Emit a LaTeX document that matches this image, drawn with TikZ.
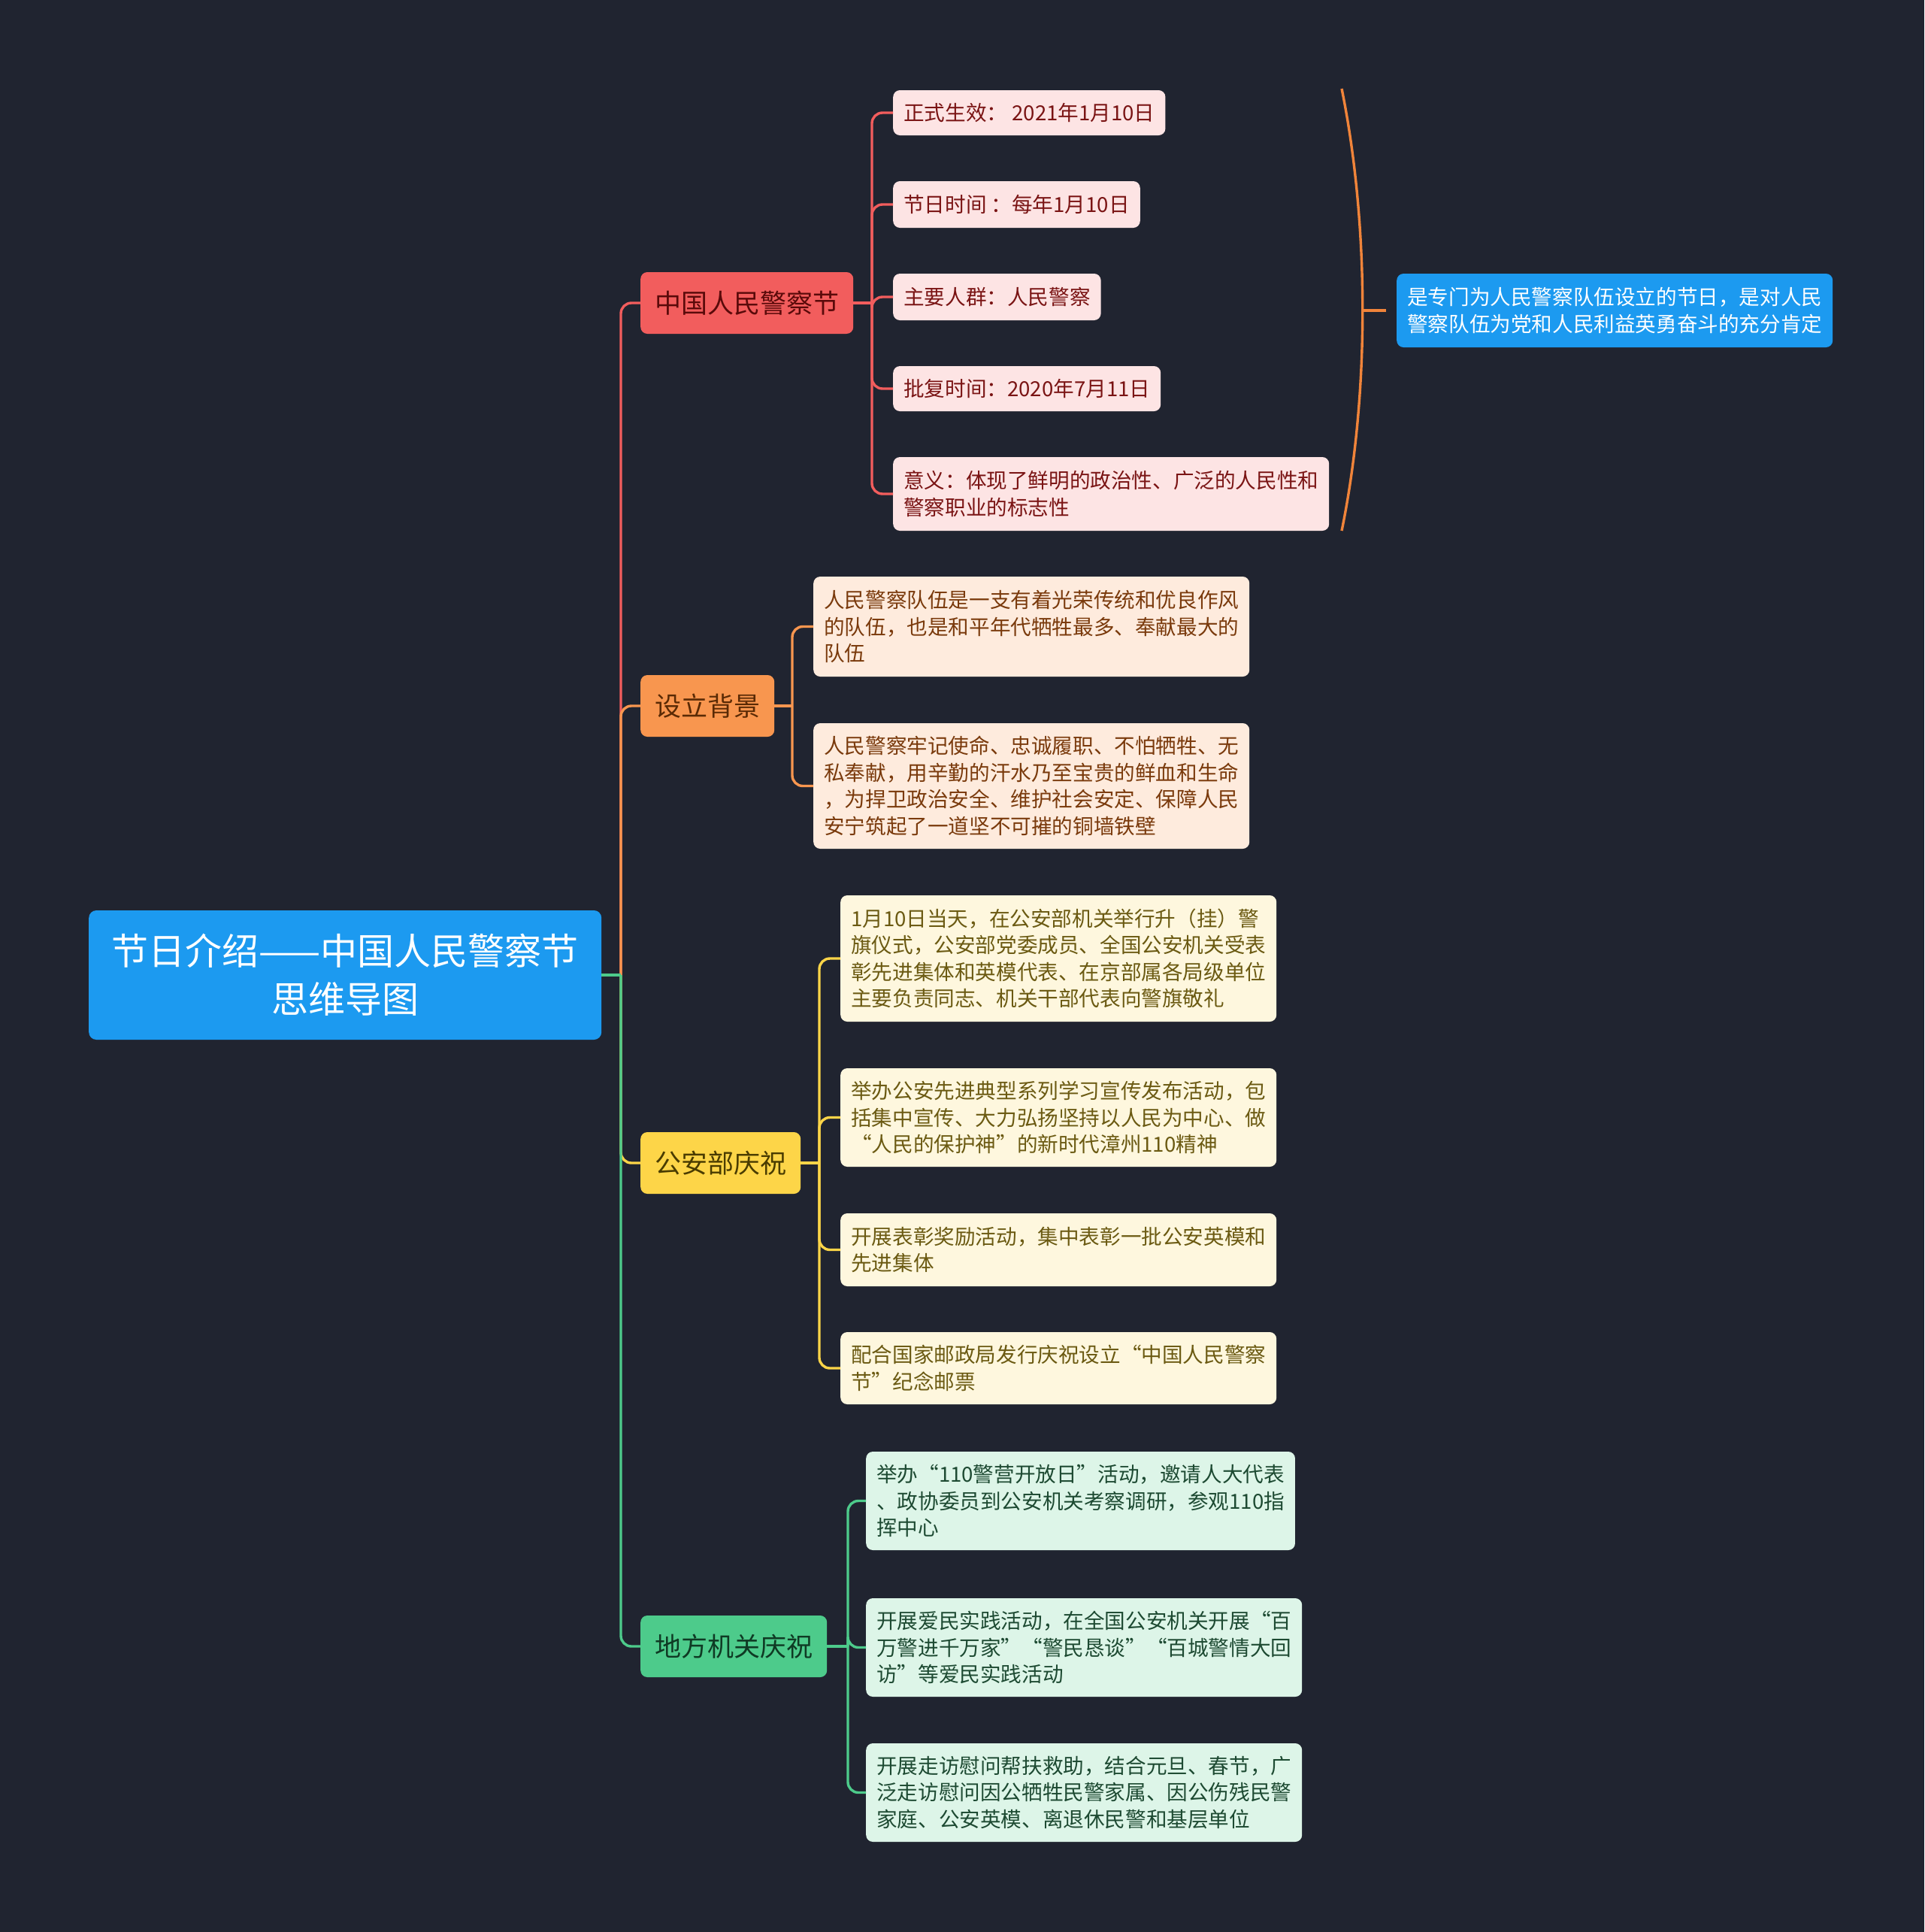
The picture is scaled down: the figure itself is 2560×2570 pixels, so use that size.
\documentclass[tikz,border=0pt]{standalone}
\usepackage{fontspec}
\setmainfont{Noto Sans CJK SC}
\definecolor{bg}{HTML}{202430}
\definecolor{cR}{HTML}{F25D5D}
\definecolor{cO}{HTML}{F8964F}
\definecolor{cY}{HTML}{FDD548}
\definecolor{cG}{HTML}{4DCB8B}
\definecolor{cB}{HTML}{1C9AF0}
\definecolor{fR}{HTML}{FDE4E4}
\definecolor{fO}{HTML}{FEEBDD}
\definecolor{fY}{HTML}{FEF7DE}
\definecolor{fG}{HTML}{DDF5E8}
\definecolor{tR}{HTML}{7A1414}
\definecolor{tO}{HTML}{7A3A0C}
\definecolor{tY}{HTML}{6B5A12}
\definecolor{tG}{HTML}{1D4A32}
\definecolor{tR1}{HTML}{5A0A0A}
\definecolor{tO1}{HTML}{5A2A05}
\definecolor{tY1}{HTML}{4A3C00}
\definecolor{tG1}{HTML}{0F3A24}
\definecolor{cBr}{HTML}{F0843A}
\begin{document}
\begin{tikzpicture}[x=1pt,y=-1pt,
  leafbase/.style={rounded corners=9pt, inner xsep=14pt, inner ysep=0pt, align=left, anchor=west,
    font=\fontsize{27.6}{35.5}\selectfont},
  leafR/.style={leafbase, fill=fR, text=tR},
  leafO/.style={leafbase, fill=fO, text=tO},
  leafY/.style={leafbase, fill=fY, text=tY},
  leafG/.style={leafbase, fill=fG, text=tG},
  topic/.style={rounded corners=9pt, inner xsep=19pt, inner ysep=0pt, minimum height=82pt, anchor=west,
    font=\fontsize{35}{42}\selectfont},
  lineR/.style={draw=cR, line width=3.4pt},
  lineO/.style={draw=cO, line width=3.4pt},
  lineY/.style={draw=cY, line width=3.4pt},
  lineG/.style={draw=cG, line width=3.4pt},
  rc/.style={rounded corners=14pt}
]
\fill[bg] (0,0) rectangle (2560,2570);
\useasboundingbox (0,0) rectangle (2560,2570);

% root
\node[rounded corners=10pt, fill=cB, text=white, align=center, anchor=west,
  minimum width=682pt, minimum height=172pt, inner sep=0pt,
  font=\fontsize{49}{64}\selectfont] (root) at (118,1297) {节日介绍——中国人民警察节\\思维导图};

% level 1
\node[topic, fill=cR, text=tR1] (n1) at (852,403) {中国人民警察节};
\node[topic, fill=cO, text=tO1] (n2) at (852,939) {设立背景};
\node[topic, fill=cY, text=tY1] (n3) at (852,1547) {公安部庆祝};
\node[topic, fill=cG, text=tG1] (n4) at (852,2190) {地方机关庆祝};

% leaves of n1
\node[leafR, minimum height=60pt] (a1) at (1188,150) {正式生效： 2021年1月10日};
\node[leafR, minimum height=62pt] (a2) at (1188,272) {节日时间 ：每年1月10日};
\node[leafR, minimum height=62pt] (a3) at (1188,395) {主要人群：人民警察};
\node[leafR, minimum height=60pt] (a4) at (1188,517) {批复时间：2020年7月11日};
\node[leafR, minimum height=98pt] (a5) at (1188,657) {意义：体现了鲜明的政治性、广泛的人民性和\\警察职业的标志性};

% leaves of n2
\node[leafO, minimum height=133pt] (b1) at (1082,833.5) {人民警察队伍是一支有着光荣传统和优良作风\\的队伍，也是和平年代牺牲最多、奉献最大的\\队伍};
\node[leafO, minimum height=167pt] (b2) at (1082,1045.5) {人民警察牢记使命、忠诚履职、不怕牺牲、无\\私奉献，用辛勤的汗水乃至宝贵的鲜血和生命\\，为捍卫政治安全、维护社会安定、保障人民\\安宁筑起了一道坚不可摧的铜墙铁壁};

% leaves of n3
\node[leafY, minimum height=168pt] (c1) at (1118,1275) {1月10日当天，在公安部机关举行升（挂）警\\旗仪式，公安部党委成员、全国公安机关受表\\彰先进集体和英模代表、在京部属各局级单位\\主要负责同志、机关干部代表向警旗敬礼};
\node[leafY, minimum height=131pt] (c2) at (1118,1486.5) {举办公安先进典型系列学习宣传发布活动，包\\括集中宣传、大力弘扬坚持以人民为中心、做\\“人民的保护神”的新时代漳州110精神};
\node[leafY, minimum height=97pt] (c3) at (1118,1662.5) {开展表彰奖励活动，集中表彰一批公安英模和\\先进集体};
\node[leafY, minimum height=96pt] (c4) at (1118,1820) {配合国家邮政局发行庆祝设立“中国人民警察\\节”纪念邮票};

% leaves of n4
\node[leafG, minimum height=131pt] (d1) at (1152,1996.5) {举办“110警营开放日”活动，邀请人大代表\\、政协委员到公安机关考察调研，参观110指\\挥中心};
\node[leafG, minimum height=131pt] (d2) at (1152,2191.5) {开展爱民实践活动，在全国公安机关开展“百\\万警进千万家”“警民恳谈”“百城警情大回\\访”等爱民实践活动};
\node[leafG, minimum height=131pt] (d3) at (1152,2384.5) {开展走访慰问帮扶救助，结合元旦、春节，广\\泛走访慰问因公牺牲民警家属、因公伤残民警\\家庭、公安英模、离退休民警和基层单位};

% summary
\node[rounded corners=9pt, fill=cB, text=white, align=left, anchor=west, inner xsep=14pt, inner ysep=0pt,
  minimum height=98pt, font=\fontsize{27.6}{35.5}\selectfont] (sum) at (1858,413)
  {是专门为人民警察队伍设立的节日，是对人民\\警察队伍为党和人民利益英勇奋斗的充分肯定};

% root connectors
\coordinate (rj) at (826,1297);
\draw[lineR, rc] (rj) |- (n1.west);
\draw[lineO, rc] (rj) |- (n2.west);
\draw[lineY, rc] (rj) |- (n3.west);
\draw[lineG, rc] (rj) |- (n4.west);
\draw[lineG] (root.east) -- (rj);

% n1 connectors
\coordinate (j1) at (1160,403);
\draw[lineR] (n1.east) -- (j1);
\foreach \t in {a1,a2,a3,a4,a5} \draw[lineR, rc] (j1) |- (\t.west);
% n2 connectors
\coordinate (j2) at (1054,939);
\draw[lineO] (n2.east) -- (j2);
\foreach \t in {b1,b2} \draw[lineO, rc] (j2) |- (\t.west);
% n3 connectors
\coordinate (j3) at (1090,1547);
\draw[lineY] (n3.east) -- (j3);
\foreach \t in {c1,c2,c3,c4} \draw[lineY, rc] (j3) |- (\t.west);
% n4 connectors
\coordinate (j4) at (1128,2190);
\draw[lineG] (n4.east) -- (j4);
\foreach \t in {d1,d2,d3} \draw[lineG, rc] (j4) |- (\t.west);

% bracket
\coordinate (bt) at (1785,118);
\coordinate (bb) at (1785,706);
\coordinate (bm) at (1813,413);
\draw[draw=cBr, line width=3.4pt] (bt) .. controls (1822,300) and (1822,526) .. (bb);
\draw[draw=cBr, line width=3.4pt] (bm) -- ([xshift=-14pt]sum.west);
\end{tikzpicture}
\end{document}
